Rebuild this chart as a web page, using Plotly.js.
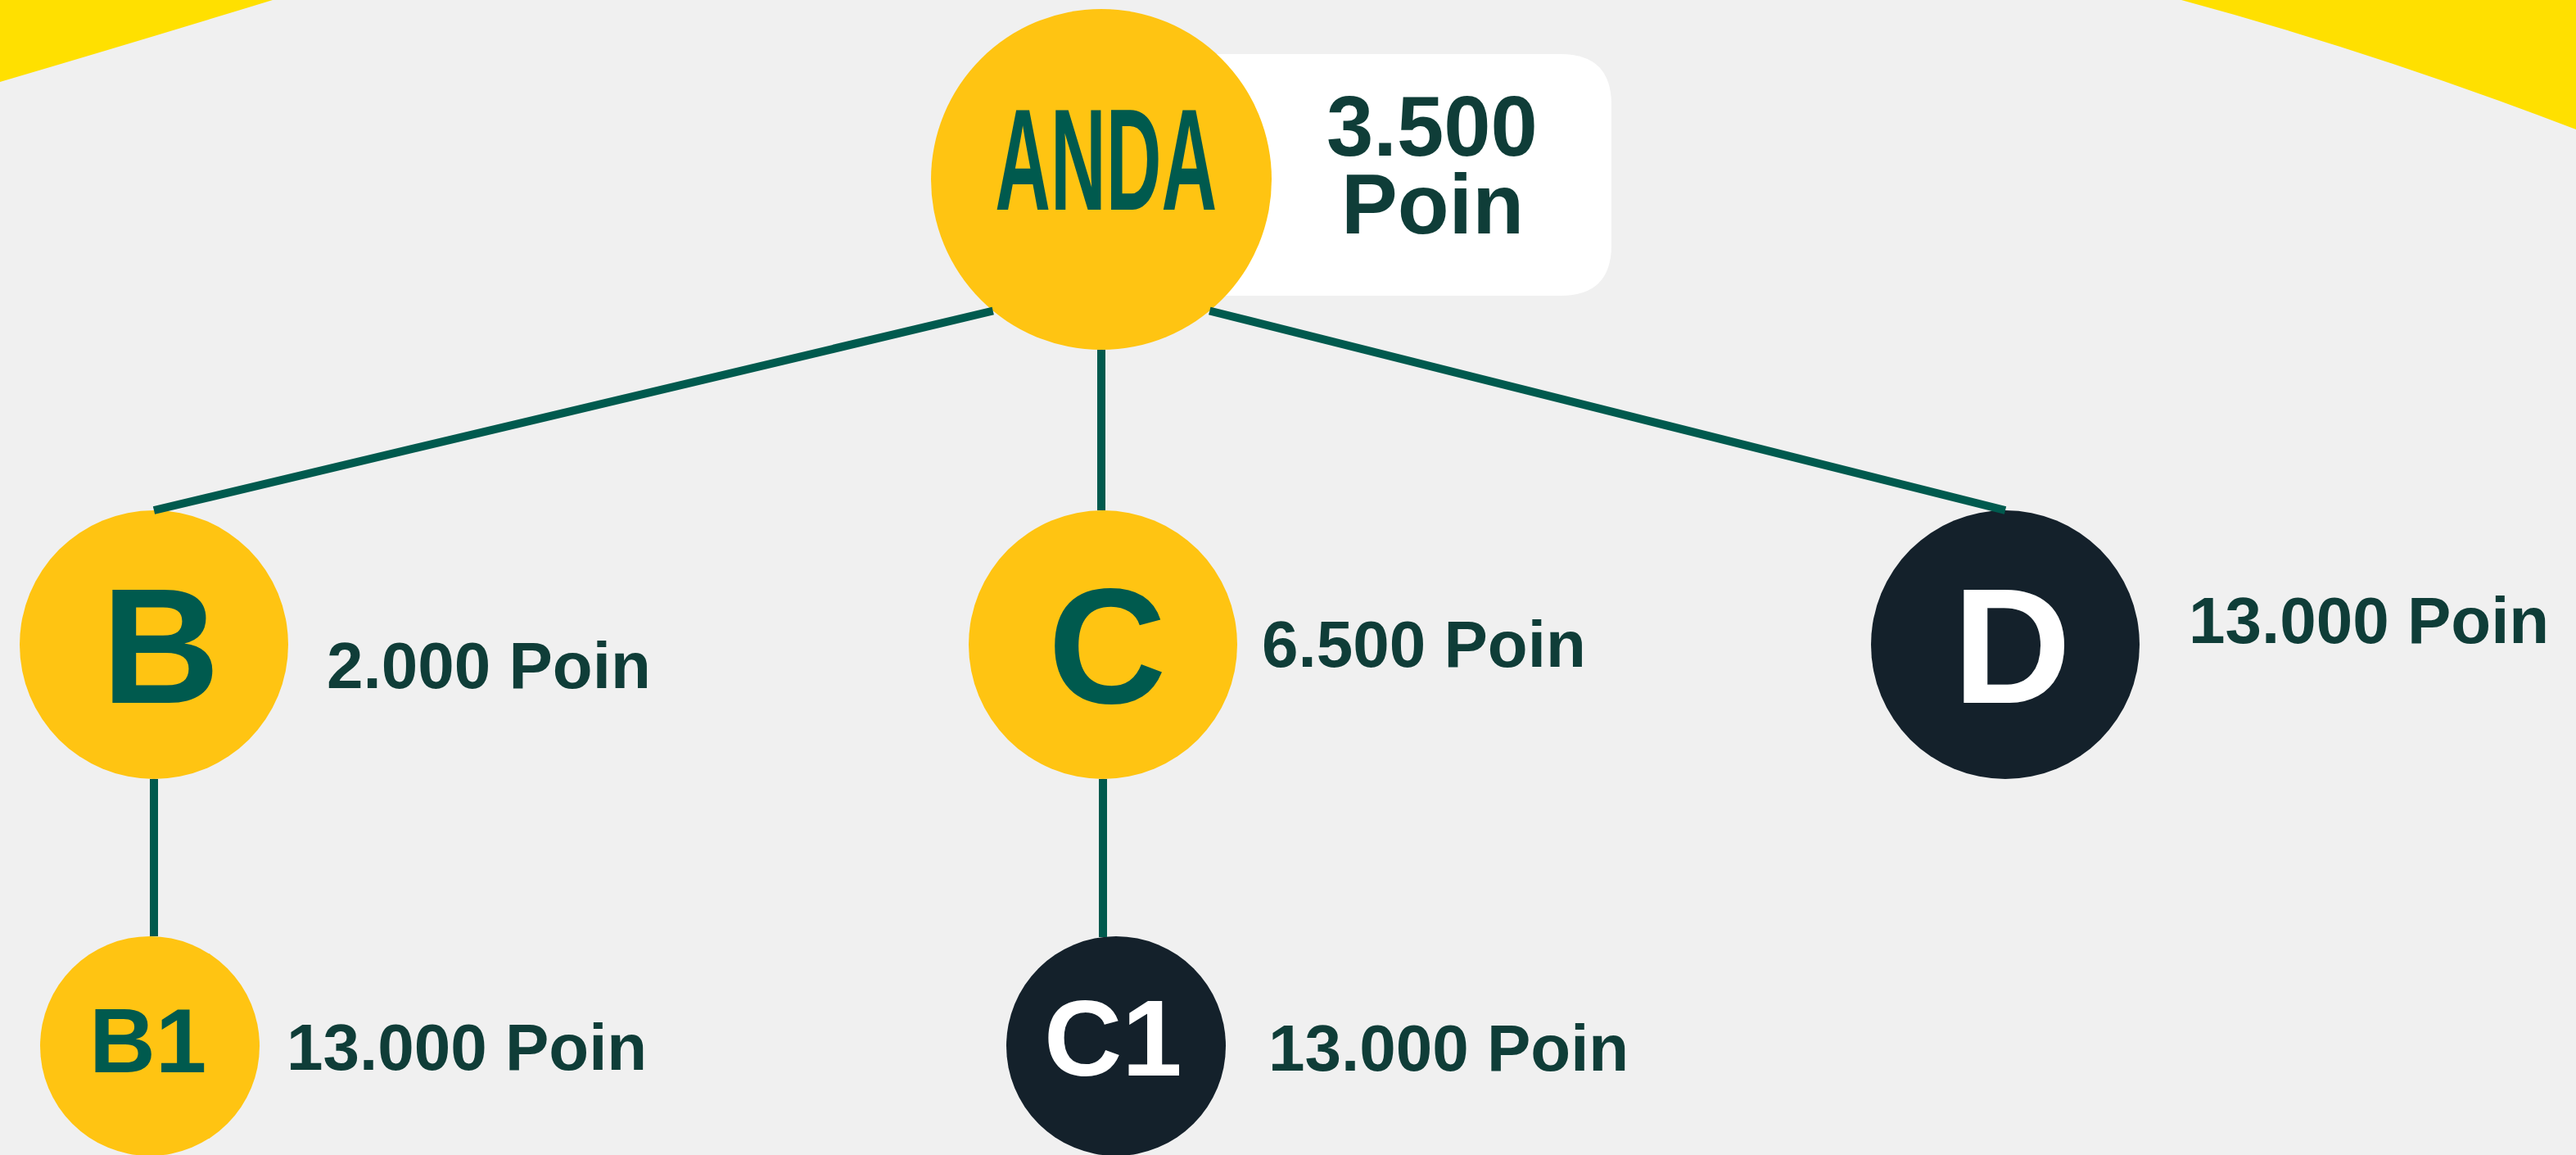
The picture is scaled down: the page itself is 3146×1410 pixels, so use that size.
<!DOCTYPE html>
<html>
<head>
<meta charset="utf-8">
<script src="https://cdn.plot.ly/plotly-3.0.1.min.js"></script>
<style>
  html, body { margin: 0; padding: 0; background: #f0f0f0; }
  #chart { width: 3146px; height: 1410px; }
</style>
</head>
<body>
<div id="chart"></div>
<script>
// ---- data ----
const nodeNames   = ['ANDA', 'B', 'C', 'D', 'B1', 'C1'];
const nodePoints  = [3500, 2000, 6500, 13000, 13000, 13000];
const nodeParents = ['', 'ANDA', 'ANDA', 'ANDA', 'B', 'C'];
const nodeStatus  = ['aktif', 'aktif', 'aktif', 'nonaktif', 'aktif', 'nonaktif'];
const pointUnit   = 'Poin';

// ---- layout (pixel positions of the tree) ----
const W = 3146, H = 1410;
const posX   = [1345, 188, 1347, 2449, 183, 1363];
const posY   = [219, 787, 787, 787, 1277, 1277];
const radius = [208, 164, 164, 164, 134, 134];
const letterSize = [177, 200, 200, 200, 112, 132];
const letterDX   = [5, 8, 5, 8, -3, -4];
const letterDY   = [-24, 1, 1, 1, -7, -10];
const labelX  = [null, 397, 1539, 2671, 348, 1547];
const labelY  = [null, 812, 786, 757, 1278, 1279];

const COL = {
  bg: '#f0f0f0', yellowBg: '#ffe000', nodeOn: '#ffc412', nodeOff: '#14212b',
  green: '#005a4e', label: '#0f3d38', white: '#ffffff'
};
const FONT = 'Liberation Sans';

function fmt(v) {
  return v.toString().replace(/\B(?=(\d{3})+(?!\d))/g, '.');
}

// ---- traces ----
const circles = {
  type: 'scatter', mode: 'markers',
  x: posX, y: posY,
  marker: {
    size: radius.map(r => 2 * r),
    color: nodeStatus.map(s => s === 'aktif' ? COL.nodeOn : COL.nodeOff),
    line: { width: 0 }, opacity: 1
  },
  opacity: 1,
  hoverinfo: 'skip', cliponaxis: false, showlegend: false
};

const ex = [], ey = [];
nodeNames.forEach((n, i) => {
  const p = nodeNames.indexOf(nodeParents[i]);
  if (p < 0) return;
  const dx = posX[i] - posX[p];
  let x0, y0, x1, y1;
  if (Math.abs(dx) < 40) {
    x0 = posX[p]; y0 = posY[p] + radius[p];
    x1 = posX[p];
    y1 = posY[i] - Math.sqrt(radius[i] * radius[i] - (posX[p] - posX[i]) ** 2);
  } else {
    const th = Math.sign(dx) * 39.5 * Math.PI / 180;
    x0 = posX[p] + radius[p] * Math.sin(th);
    y0 = posY[p] + radius[p] * Math.cos(th);
    x1 = posX[i]; y1 = posY[i] - radius[i];
  }
  ex.push(x0, x1, null); ey.push(y0, y1, null);
});
const edges = {
  type: 'scatter', mode: 'lines', x: ex, y: ey,
  line: { color: COL.green, width: 10 },
  hoverinfo: 'skip', cliponaxis: false, showlegend: false
};

// ---- annotations ----
const annotations = [];
nodeNames.forEach((n, i) => {
  annotations.push({
    x: posX[i] + letterDX[i], y: posY[i] + letterDY[i], xref: 'x', yref: 'y',
    text: n, showarrow: false, xanchor: 'center', yanchor: 'middle',
    font: { family: FONT, size: letterSize[i], weight: 'bold',
            color: nodeStatus[i] === 'aktif' ? COL.green : COL.white }
  });
  if (labelX[i] !== null) {
    annotations.push({
      x: labelX[i], y: labelY[i], xref: 'x', yref: 'y',
      text: fmt(nodePoints[i]) + ' ' + pointUnit, showarrow: false,
      xanchor: 'left', yanchor: 'middle',
      font: { family: FONT, size: 80, weight: 'bold', color: COL.label }
    });
  }
});
// root score box text
annotations.push({
  x: 1749, y: 154, xref: 'x', yref: 'y', text: fmt(nodePoints[0]), showarrow: false,
  xanchor: 'center', yanchor: 'middle',
  font: { family: FONT, size: 103, weight: 'bold', color: COL.label }
});
annotations.push({
  x: 1749, y: 249, xref: 'x', yref: 'y', text: pointUnit, showarrow: false,
  xanchor: 'center', yanchor: 'middle',
  font: { family: FONT, size: 103, weight: 'bold', color: COL.label }
});

// ---- shapes ----
const shapes = [
  { type: 'path', xref: 'x', yref: 'y', layer: 'below',
    path: 'M 0 -5 L 335 -5 L 333 0 Q 170 50 0 100 Z',
    fillcolor: COL.yellowBg, line: { width: 0 } },
  { type: 'path', xref: 'x', yref: 'y', layer: 'below',
    path: 'M 2664 0 Q 2905 65 3151 160 L 3151 -5 L 2660 -5 Z',
    fillcolor: COL.yellowBg, line: { width: 0 } },
  { type: 'path', xref: 'x', yref: 'y', layer: 'below',
    path: 'M 1345 66 L 1906 66 Q 1968 66 1968 128 L 1968 299 Q 1968 361 1906 361 L 1345 361 Z',
    fillcolor: COL.white, line: { width: 0 } }
];

const layout = {
  width: W, height: H,
  margin: { l: 0, r: 0, t: 0, b: 0, pad: 0 },
  paper_bgcolor: COL.bg, plot_bgcolor: COL.bg,
  xaxis: { range: [0, W], visible: false, fixedrange: true },
  yaxis: { range: [H, 0], visible: false, fixedrange: true },
  showlegend: false, shapes: shapes, annotations: annotations
};

Plotly.newPlot('chart', [circles, edges], layout, { staticPlot: true, displayModeBar: false })
  .then(() => {
    document.querySelectorAll('.annotation-text').forEach(t => {
      if (t.textContent === 'ANDA') {
        t.style.transformBox = 'fill-box';
        t.style.transformOrigin = 'center';
        t.style.transform = 'scaleX(0.53)';
      }
    });
  });
</script>
</body>
</html>
